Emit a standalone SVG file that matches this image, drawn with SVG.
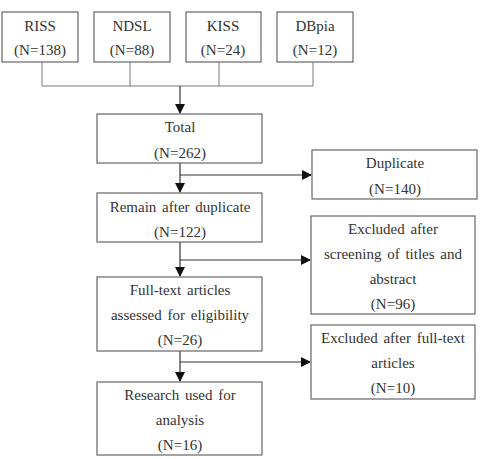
<svg xmlns="http://www.w3.org/2000/svg" width="484" height="459" viewBox="0 0 484 459">
<style>
.box{fill:#fff;stroke:#666;stroke-width:1.2}
text{font-family:"Liberation Serif","DejaVu Serif",serif;font-size:15px;fill:#333;text-anchor:middle;word-spacing:2px}
.c{fill:none;stroke:#333;stroke-width:1.2}
.g{fill:none;stroke:#777;stroke-width:1}
</style>
<defs>
<marker id="ah" markerWidth="10" markerHeight="10" refX="9" refY="5" orient="auto" markerUnits="userSpaceOnUse">
<path d="M0,0 L10,5 L0,10 z" fill="#111"/>
</marker>
</defs>
<g id="connectors">
<path class="g" d="M42,62 V86 M130,62 V86 M219,62 V86 M313,62 V86 M42,86 H313"/>
<path class="c" d="M180,86 V113" marker-end="url(#ah)"/>
<path class="c" d="M180,163 V192" marker-end="url(#ah)"/>
<path class="c" d="M180,175 H311" marker-end="url(#ah)"/>
<path class="c" d="M180,242 V276" marker-end="url(#ah)"/>
<path class="c" d="M180,260 H310" marker-end="url(#ah)"/>
<path class="c" d="M180,351 V381" marker-end="url(#ah)"/>
<path class="c" d="M180,362 H310" marker-end="url(#ah)"/>
</g>
<g id="riss"><rect class="box" x="2" y="12" width="76" height="50"/><text x="40" y="31">RISS</text><text x="40" y="55">(N=138)</text></g>
<g id="ndsl"><rect class="box" x="94" y="12" width="76" height="50"/><text x="132" y="31">NDSL</text><text x="132" y="55">(N=88)</text></g>
<g id="kiss"><rect class="box" x="186" y="12" width="75" height="50"/><text x="223" y="31">KISS</text><text x="223" y="55">(N=24)</text></g>
<g id="dbpia"><rect class="box" x="277" y="12" width="76" height="50"/><text x="315" y="31">DBpia</text><text x="315" y="55">(N=12)</text></g>
<g id="total"><rect class="box" x="97" y="114" width="165" height="49"/><text x="180" y="132">Total</text><text x="180" y="158">(N=262)</text></g>
<g id="duplicate"><rect class="box" x="312" y="150" width="165" height="49"/><text x="395" y="168">Duplicate</text><text x="395" y="194">(N=140)</text></g>
<g id="remain"><rect class="box" x="97" y="193" width="165" height="49"/><text x="180" y="212">Remain after duplicate</text><text x="180" y="237">(N=122)</text></g>
<g id="excluded1"><rect class="box" x="311" y="216" width="164" height="98"/><text x="393" y="234">Excluded after</text><text x="393" y="259">screening of titles and</text><text x="393" y="284">abstract</text><text x="393" y="309">(N=96)</text></g>
<g id="fulltext"><rect class="box" x="97" y="277" width="165" height="74"/><text x="180" y="295">Full-text articles</text><text x="180" y="320">assessed for eligibility</text><text x="180" y="345">(N=26)</text></g>
<g id="excluded2"><rect class="box" x="311" y="325" width="164" height="74"/><text x="393" y="343">Excluded after full-text</text><text x="393" y="368">articles</text><text x="393" y="393">(N=10)</text></g>
<g id="research"><rect class="box" x="97" y="382" width="165" height="73"/><text x="180" y="400">Research used for</text><text x="180" y="425">analysis</text><text x="180" y="450">(N=16)</text></g>
</svg>
